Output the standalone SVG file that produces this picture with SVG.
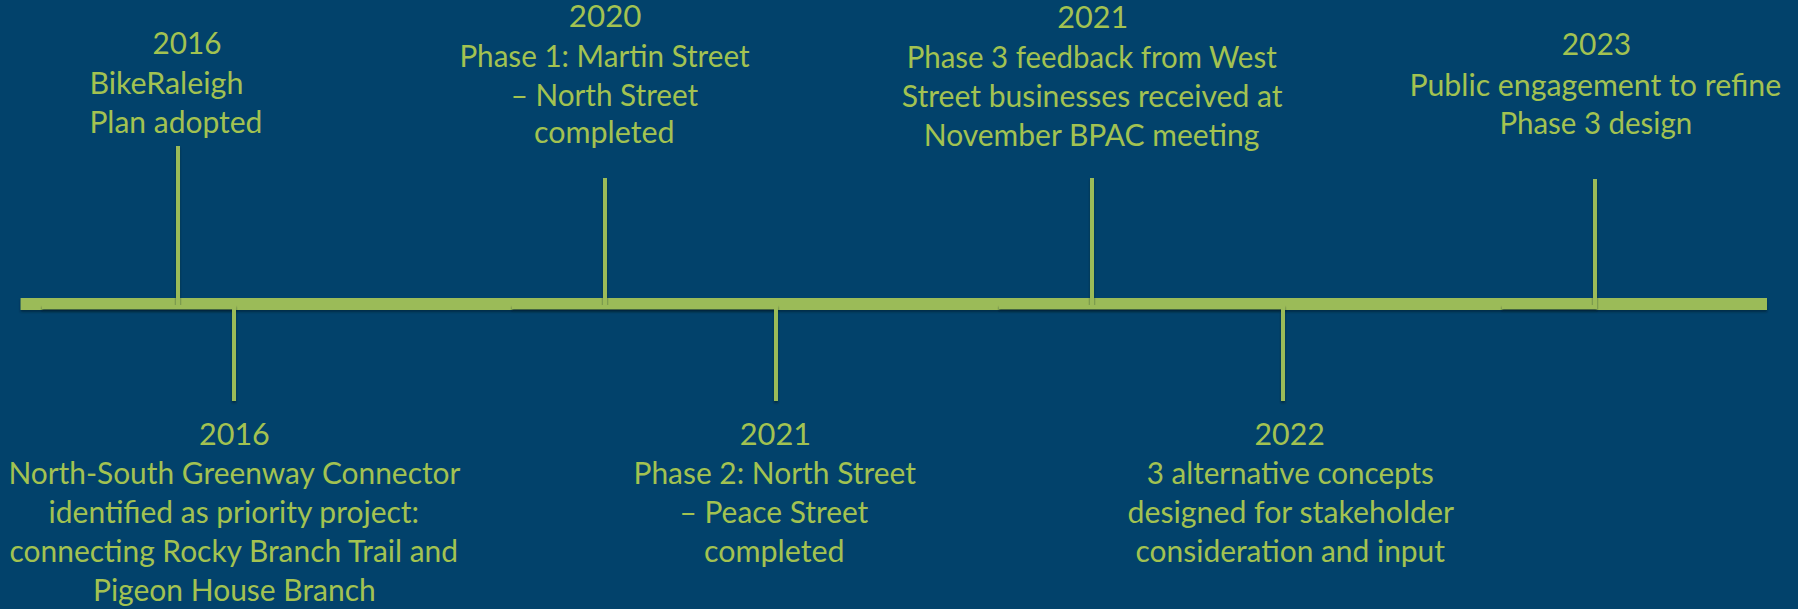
<svg xmlns="http://www.w3.org/2000/svg" width="1798" height="609" viewBox="0 0 1798 609">
<defs>
<style>
.t{font-family:Lato,"Open Sans","Liberation Sans",sans-serif;font-size:30px;fill:#A3C251;}
.tick{fill:none;stroke:#9BBB59;stroke-width:4;stroke-linejoin:miter;stroke-linecap:butt;}
</style>
<filter id="sh" x="-5%" y="-50%" width="110%" height="200%">
<feDropShadow dx="0" dy="2" stdDeviation="1.2" flood-color="#001a2e" flood-opacity="0.6"/>
</filter>
</defs>
<rect x="0" y="0" width="1798" height="609" fill="#02426B"/>
<g id="timeline">
<rect x="20.6" y="298" width="1746.4" height="12" fill="#9BBB59" filter="url(#sh)"/>
</g>
<g id="connectors" filter="url(#sh)">
<path class="tick" d="M178 146 V307 H85"/>
<path class="tick" d="M42 307 H234 V401"/>
<path class="tick" d="M605 178 V307 H512"/>
<path class="tick" d="M584 307 H776 V401"/>
<path class="tick" d="M1092 178 V307 H999"/>
<path class="tick" d="M1091 307 H1283 V401"/>
<path class="tick" d="M1595 179 V307 H1502"/>
</g>
<g id="event-2016-bikeraleigh">
<text class="t" x="152.5" y="54" textLength="69" lengthAdjust="spacingAndGlyphs">2016</text>
<text class="t" x="89.4" y="94.3" textLength="154" lengthAdjust="spacingAndGlyphs">BikeRaleigh</text>
<text class="t" x="89.4" y="133.3" textLength="173" lengthAdjust="spacingAndGlyphs">Plan adopted</text>
</g>
<g id="event-2020-phase1">
<text class="t" x="568.8" y="27" textLength="72.7" lengthAdjust="spacingAndGlyphs">2020</text>
<text class="t" x="459.4" y="66.7" textLength="290.2" lengthAdjust="spacingAndGlyphs">Phase 1: Martin Street</text>
<text class="t" x="510.7" y="106" textLength="187.5" lengthAdjust="spacingAndGlyphs">– North Street</text>
<text class="t" x="533.9" y="143.3" textLength="140.7" lengthAdjust="spacingAndGlyphs">completed</text>
</g>
<g id="event-2021-phase3-feedback">
<text class="t" x="1057.3" y="28.3" textLength="71" lengthAdjust="spacingAndGlyphs">2021</text>
<text class="t" x="906.7" y="68.3" textLength="370" lengthAdjust="spacingAndGlyphs">Phase 3 feedback from West</text>
<text class="t" x="901.8" y="107.3" textLength="380.7" lengthAdjust="spacingAndGlyphs">Street businesses received at</text>
<text class="t" x="923.7" y="145.7" textLength="335.7" lengthAdjust="spacingAndGlyphs">November BPAC meeting</text>
</g>
<g id="event-2023-engagement">
<text class="t" x="1561.7" y="55" textLength="69.5" lengthAdjust="spacingAndGlyphs">2023</text>
<text class="t" x="1409.4" y="95.7" textLength="371.8" lengthAdjust="spacingAndGlyphs">Public engagement to refine</text>
<text class="t" x="1499.4" y="134.3" textLength="192.8" lengthAdjust="spacingAndGlyphs">Phase 3 design</text>
</g>
<g id="event-2016-greenway">
<text class="t" x="199" y="445" textLength="70.8" lengthAdjust="spacingAndGlyphs">2016</text>
<text class="t" x="8.4" y="484" textLength="452" lengthAdjust="spacingAndGlyphs">North-South Greenway Connector</text>
<text class="t" x="48.6" y="523.3" textLength="370.4" lengthAdjust="spacingAndGlyphs">identified as priority project:</text>
<text class="t" x="9.6" y="561.7" textLength="448.4" lengthAdjust="spacingAndGlyphs">connecting Rocky Branch Trail and</text>
<text class="t" x="93" y="600.7" textLength="282.8" lengthAdjust="spacingAndGlyphs">Pigeon House Branch</text>
</g>
<g id="event-2021-phase2">
<text class="t" x="739.7" y="445" textLength="71.5" lengthAdjust="spacingAndGlyphs">2021</text>
<text class="t" x="633.5" y="484" textLength="282.5" lengthAdjust="spacingAndGlyphs">Phase 2: North Street</text>
<text class="t" x="679.5" y="523.3" textLength="188.8" lengthAdjust="spacingAndGlyphs">– Peace Street</text>
<text class="t" x="704" y="561.7" textLength="140.6" lengthAdjust="spacingAndGlyphs">completed</text>
</g>
<g id="event-2022-concepts">
<text class="t" x="1254.5" y="445" textLength="70.3" lengthAdjust="spacingAndGlyphs">2022</text>
<text class="t" x="1146.7" y="484" textLength="287.2" lengthAdjust="spacingAndGlyphs">3 alternative concepts</text>
<text class="t" x="1127.6" y="523.3" textLength="326.4" lengthAdjust="spacingAndGlyphs">designed for stakeholder</text>
<text class="t" x="1135.6" y="561.7" textLength="309.4" lengthAdjust="spacingAndGlyphs">consideration and input</text>
</g>
</svg>
